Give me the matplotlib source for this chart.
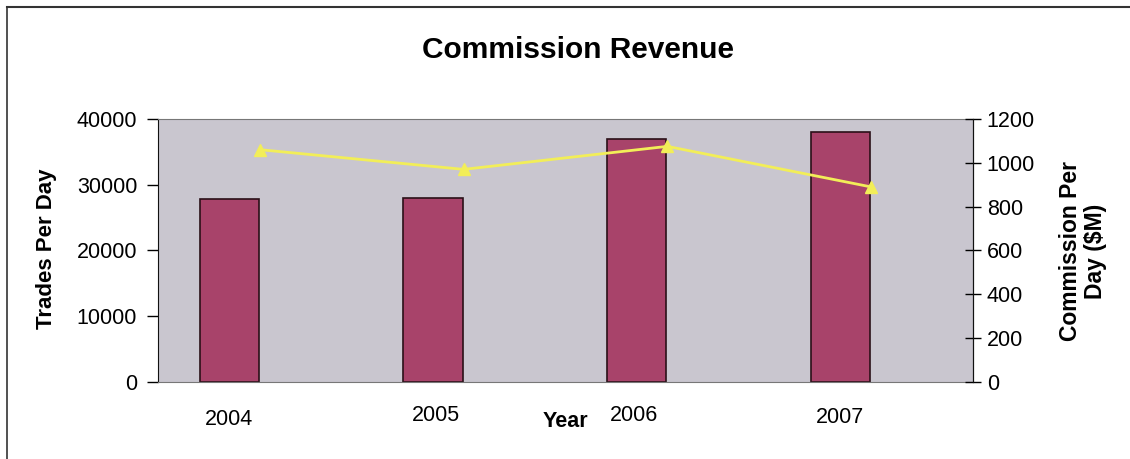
import matplotlib
matplotlib.use("Agg")
import matplotlib.pyplot as plt
import matplotlib.transforms as mtransforms
from matplotlib.lines import Line2D

plt.rcParams['font.family'] = ['Liberation Sans', 'DejaVu Sans']

# data
years = ['2004', '2005', '2006', '2007']
trades_per_day = [27800, 28000, 37000, 38000]
commission_per_day = [1060, 970, 1075, 890]

bar_color = '#a8436a'
bg_color = '#c9c6cf'
line_color = '#f2ee58'

fig = plt.figure(figsize=(11.3, 4.59), dpi=100)
ax = fig.add_axes([0.1398, 0.1678, 0.7212, 0.573])
ax.set_facecolor(bg_color)

# bars sit left of the category centre, the line sits on it
x = list(range(len(years)))
bar_x = [i - 0.15 for i in x]
ax.bar(bar_x, trades_per_day, width=0.29, color=bar_color, edgecolor='#2a1018', linewidth=1.2, zorder=2)
ax.set_xlim(-0.5, 3.5)
ax.set_ylim(0, 40000)
ax.set_yticks([0, 10000, 20000, 30000, 40000])
ax.tick_params(axis='y', direction='out', length=8, width=1, pad=7, labelsize=15.5)
ax.set_xticks(bar_x)
ax.set_xticklabels(years)
ax.tick_params(axis='x', length=0, pad=17, labelsize=15.5)

# the scanned labels sit a little unevenly
for lab, dy, dx in zip(ax.get_xticklabels(), [-3, 1, 1, -1], [0, 3, -3, 0]):
    lab.set_transform(lab.get_transform() + mtransforms.ScaledTranslation(dx / 100, dy / 100, fig.dpi_scale_trans))

ax.set_xlabel('Year', fontsize=15.5, fontweight='bold')
ax.xaxis.set_label_coords(0.5, -0.11)

for s in ['top', 'bottom']:
    ax.spines[s].set_color('#777777')
ax.spines['left'].set_color('#111111')

ax2 = ax.twinx()
ax2.plot(x, commission_per_day, color=line_color, linewidth=2,
         marker='^', markersize=9, markerfacecolor=line_color, markeredgecolor=line_color, zorder=3)
ax2.set_ylim(0, 1200)
ax2.set_yticks([0, 200, 400, 600, 800, 1000, 1200])
ax2.tick_params(axis='y', direction='inout', length=12, width=1, pad=4, labelsize=15.5)
ax2.spines['right'].set_color('#111111')
for s in ['top', 'bottom', 'left']:
    ax2.spines[s].set_visible(False)

fig.text(0.5115, 0.891, 'Commission Revenue', ha='center', va='center', fontsize=21.5, fontweight='bold')
fig.text(47 / 1130, 1 - 249 / 459, 'Trades Per Day', rotation=90, ha='center', va='center',
         fontsize=16, fontweight='bold')
fig.text(1083 / 1130, 1 - 251 / 459, 'Commission Per\nDay ($M)', rotation=90, ha='center', va='center',
         multialignment='center', fontsize=16.5, fontweight='bold', linespacing=1.15)

# outer frame of the scanned chart (left and top edges only)
fig.add_artist(Line2D([7 / 1130, 7 / 1130], [0, 1 - 7 / 459], transform=fig.transFigure, color='#333333', linewidth=1.2))
fig.add_artist(Line2D([7 / 1130, 1], [1 - 7 / 459, 1 - 7 / 459], transform=fig.transFigure, color='#333333', linewidth=1.5))

fig.savefig('out.png', dpi=100)
